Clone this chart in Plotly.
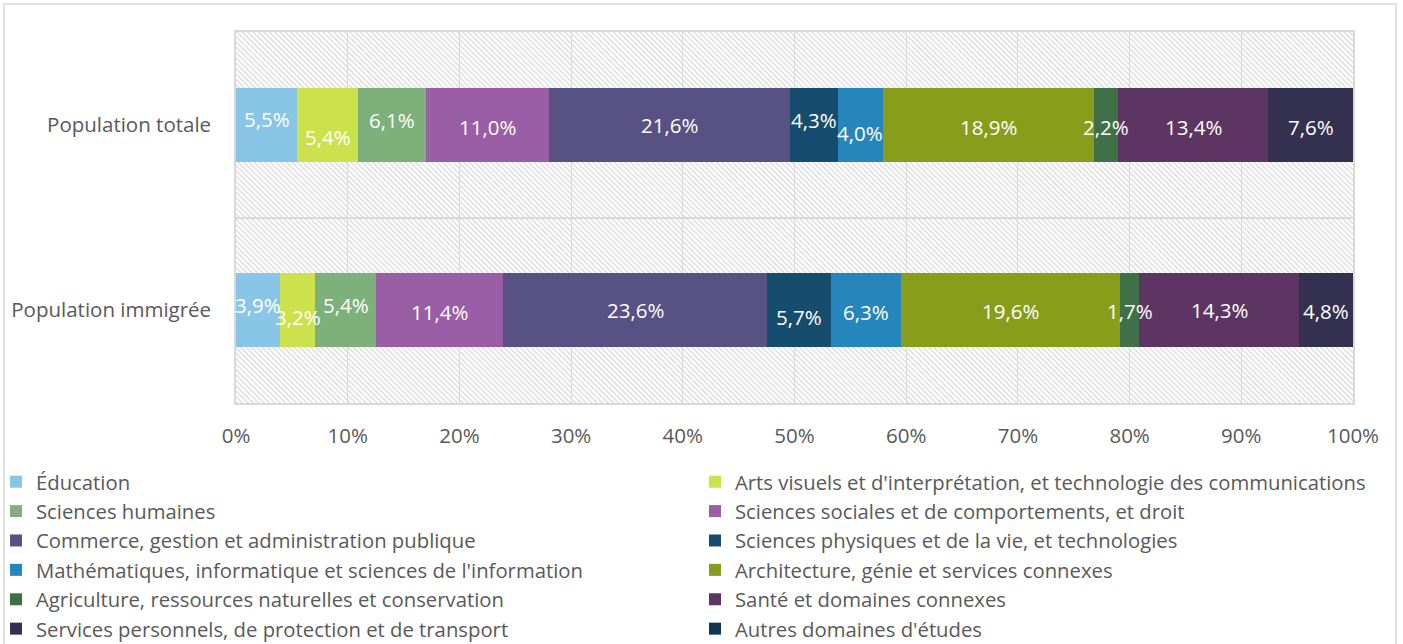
import base64
import plotly.graph_objects as go

# ---- data ----
rows = ["Population immigrée", "Population totale"]
fields = [
    "Éducation",
    "Arts visuels et d'interprétation, et technologie des communications",
    "Sciences humaines",
    "Sciences sociales et de comportements, et droit",
    "Commerce, gestion et administration publique",
    "Sciences physiques et de la vie, et technologies",
    "Mathématiques, informatique et sciences de l'information",
    "Architecture, génie et services connexes",
    "Agriculture, ressources naturelles et conservation",
    "Santé et domaines connexes",
    "Services personnels, de protection et de transport",
    "Autres domaines d'études",
]
immigree = [3.9, 3.2, 5.4, 11.4, 23.6, 5.7, 6.3, 19.6, 1.7, 14.3, 4.8, 0.0]
totale = [5.5, 5.4, 6.1, 11.0, 21.6, 4.3, 4.0, 18.9, 2.2, 13.4, 7.6, 0.0]
x_ticks = [0, 10, 20, 30, 40, 50, 60, 70, 80, 90, 100]

# ---- style ----
colors = ["#89C5E7", "#CBE24C", "#7DB07B", "#9A5EA6", "#585184", "#164C6E",
          "#2685BA", "#889E1A", "#3F7048", "#5D3563", "#34304F", "#0E3650"]
# vertical shift of each data label (px, positive = up), per row
label_dy = {
    "Population immigrée": [5, -7, 5, -2, 0, -7, -2, -1, -1, 0, -1, 0],
    "Population totale": [6, -12, 5, -2, 0, 5, -8, -2, -2, -2, -2, 0],
}
FONT = "Open Sans"
FS = 20.5
LEG_FS = 20.3
GRID = "#D9D9D9"
TXT = "#595959"

W, H = 1403, 644
L, R, T, B = 236, 50, 32, 241
PW, PH = W - L - R, H - T - B

values = {"Population immigrée": immigree, "Population totale": totale}

fig = go.Figure()
for i, f in enumerate(fields):
    fig.add_trace(go.Bar(
        name=f, orientation="h", y=rows,
        x=[values[r][i] for r in rows],
        marker=dict(color=colors[i], line=dict(width=0)),
        width=0.4, hoverinfo="x+name",
        legend="legend" if i % 2 == 0 else "legend2",
    ))

annotations = []
for r in rows:
    vals = values[r]
    tot = sum(vals)
    cum = 0.0
    for i, v in enumerate(vals):
        if v > 0:
            mid = (cum + v / 2) / tot * 100
            annotations.append(dict(
                x=mid, y=r, xref="x", yref="y", showarrow=False,
                text=f"{v:.1f}%".replace(".", ","),
                font=dict(family=FONT, size=FS, color="white"),
                yshift=label_dy[r][i],
            ))
        cum += v

# hatched plot background as an inline SVG image
svg = (
    f'<svg xmlns="http://www.w3.org/2000/svg" width="{PW}" height="{PH}">'
    '<defs><pattern id="h" width="3.8" height="3.8" patternUnits="userSpaceOnUse" '
    'patternTransform="rotate(-45)"><rect x="0" y="0" width="1.3" height="3.8" fill="#D9D9D9"/>'
    '</pattern></defs>'
    f'<rect width="{PW}" height="{PH}" fill="white"/>'
    f'<rect width="{PW}" height="{PH}" fill="url(#h)"/></svg>'
)
src = "data:image/svg+xml;base64," + base64.b64encode(svg.encode()).decode()

leg_common = dict(
    orientation="v", xanchor="left", yanchor="top",
    y=-(462 - (H - B)) / PH,
    font=dict(family=FONT, size=LEG_FS, color=TXT),
    traceorder="normal", bgcolor="rgba(0,0,0,0)", borderwidth=0,
    itemclick=False, itemdoubleclick=False,
)

fig.update_layout(
    width=W, height=H,
    margin=dict(l=L, r=R, t=T, b=B, pad=0, autoexpand=False),
    barmode="stack", barnorm="percent",
    paper_bgcolor="white", plot_bgcolor="rgba(0,0,0,0)",
    font=dict(family=FONT, size=FS, color=TXT),
    annotations=annotations,
    images=[dict(source=src, xref="paper", yref="paper", x=0, y=1,
                 sizex=1, sizey=1, xanchor="left", yanchor="top",
                 sizing="stretch", layer="below")],
    shapes=[dict(type="rect", xref="paper", yref="paper",
                 x0=(4 - L) / PW, x1=(1396 - L) / PW,
                 y0=(H - B - 660) / PH, y1=(H - B - 4) / PH,
                 line=dict(color=GRID, width=1.5), fillcolor="rgba(0,0,0,0)",
                 layer="below")],
    legend=dict(x=(-4 - L) / PW, **leg_common),
    legend2=dict(x=(695 - L) / PW, **leg_common),
    showlegend=True,
)
fig.update_xaxes(
    range=[0, 100], tickvals=x_ticks, ticktext=[f"{t}%" for t in x_ticks],
    showgrid=True, gridcolor=GRID, gridwidth=1,
    showline=True, linecolor=GRID, linewidth=1.5, mirror=True,
    zeroline=False, ticks="", ticklabelstandoff=14, fixedrange=True,
)
fig.update_yaxes(
    type="category", categoryorder="array", categoryarray=rows,
    tickson="boundaries", showgrid=True, gridcolor=GRID, gridwidth=1.5,
    showline=True, linecolor=GRID, linewidth=1.5, mirror=True,
    ticks="", ticklabelstandoff=19, fixedrange=True,
)
fig.write_html("out.html", config={"displayModeBar": False},
               post_script="document.body.style.margin='0';document.body.style.overflow='hidden';")
